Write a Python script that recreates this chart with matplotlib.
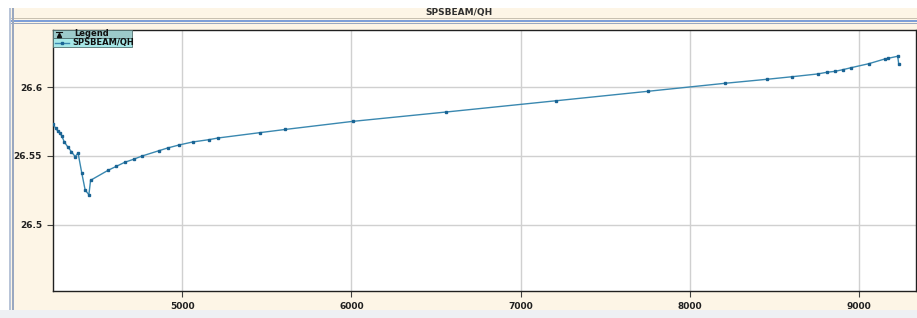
import numpy as np
import matplotlib
matplotlib.use("Agg")
import matplotlib.pyplot as plt
from matplotlib.patches import Rectangle
from matplotlib.lines import Line2D

# values
x_vals = [4238, 4252, 4265, 4277, 4289, 4303, 4323, 4346, 4368, 4385,
          4407, 4427, 4449, 4459, 4563, 4612, 4661, 4713, 4764, 4862,
          4914, 4982, 5063, 5160, 5213, 5461, 5609, 6009, 6560, 7210,
          7754, 8207, 8454, 8605, 8755, 8808, 8857, 8903, 8954, 9058,
          9151, 9172, 9228, 9234]
y_vals = [26.5733, 26.5702, 26.5682, 26.5667, 26.5645, 26.5604, 26.5568, 26.5531, 26.5495, 26.5522,
          26.5376, 26.5252, 26.5218, 26.5323, 26.5396, 26.5425, 26.5454, 26.5476, 26.5500, 26.5538,
          26.5558, 26.5580, 26.5602, 26.5619, 26.5631, 26.5670, 26.5693, 26.5752, 26.5820, 26.5902,
          26.5971, 26.6029, 26.6058, 26.6077, 26.6097, 26.6109, 26.6116, 26.6128, 26.6143, 26.6172,
          26.6206, 26.6211, 26.6226, 26.6167]
x_ticks = [5000, 6000, 7000, 8000, 9000]
y_ticks = [26.5, 26.55, 26.6]
y_ticklabels = ["26.5", "26.55", "26.6"]
title = "SPSBEAM/QH"
series_name = "SPSBEAM/QH"

W, H = 917, 318
cream = "#fdf5e6"
fig = plt.figure(figsize=(W / 100, H / 100), dpi=100)
fig.patch.set_facecolor(cream)

def px(x0, y0, w, h, z=-1, **kw):
    # rectangle in pixel coords (y from top)
    r = Rectangle((x0 / W, 1 - (y0 + h) / H), w / W, h / H,
                  transform=fig.transFigure, zorder=z, **kw)
    fig.patches.append(r)
    return r

# window decorations
px(0, 0, W, 8, facecolor="white", edgecolor="none")
px(0, 18, W, 1, facecolor="#c8c0b0", edgecolor="none")
px(0, 20, W, 1.5, facecolor="#7e9fd8", edgecolor="none")
px(0, 23, W, 1, facecolor="#9aa8c0", edgecolor="none")
px(0, 0, 9, H, facecolor="white", edgecolor="none")
px(9, 8, 2, H, facecolor="#b8c4d8", edgecolor="none")
px(12, 8, 2, H, facecolor="#9aa8c0", edgecolor="none")
px(0, 310, W, 8, facecolor="#eef0f3", edgecolor="none")
fig.text(0.5, 1 - 12.5 / H, title, ha="center", va="center",
         fontsize=6.5, fontweight="bold", color="#303030")

ax = fig.add_axes([53 / W, 27 / H, 863 / W, 261 / H])
ax.set_facecolor("white")
ax.plot(x_vals, y_vals, color="#3a88b0", lw=1.0, marker="s", ms=2.0,
        mfc="#1a6494", mec="#1a6494", zorder=3)
ax.set_xlim(4237, 9336)
ax.set_ylim(26.4517, 26.6417)
ax.set_xticks(x_ticks)
ax.set_yticks(y_ticks)
ax.set_yticklabels(y_ticklabels)
ax.grid(True, color="#d0d0d0", lw=1.0)
ax.set_axisbelow(True)
for s in ax.spines.values():
    s.set_color("#202020")
    s.set_linewidth(1.0)
ax.tick_params(direction="out", length=4, width=0.8, color="#404040",
               labelsize=6.5, pad=4)
for lab in ax.get_xticklabels() + ax.get_yticklabels():
    lab.set_fontweight("bold")
    lab.set_color("#202020")

# legend box
px(53, 30, 79, 8, z=5, facecolor="#9ccaca", edgecolor="#507070", lw=0.6)
px(53, 38, 79, 9, z=5, facecolor="#a6e8e8", edgecolor="#507070", lw=0.6)
fig.text(92 / W, 1 - 34 / H, "Legend", ha="center", va="center",
         fontsize=6, fontweight="bold", color="#101010", zorder=6)
# little header icon: bar over a triangle
fig.lines.append(Line2D([56 / W, 62 / W], [1 - 31.8 / H] * 2, transform=fig.transFigure,
                        color="#101010", lw=0.8, zorder=6))
fig.lines.append(Line2D([59 / W], [1 - 34.8 / H], transform=fig.transFigure,
                        color="#101010", marker="^", ms=3, ls="none", zorder=6))
fig.text(72 / W, 1 - 42.5 / H, series_name, ha="left", va="center",
         fontsize=6, fontweight="bold", color="#101010", zorder=6)
fig.lines.append(Line2D([55 / W, 69 / W], [1 - 42.5 / H] * 2, transform=fig.transFigure,
                        color="#3a88b0", lw=1.0, zorder=6))
fig.lines.append(Line2D([62 / W], [1 - 42.5 / H], transform=fig.transFigure,
                        marker="s", ms=1.5, ls="none", mfc="#1a6494", mec="#1a6494", zorder=6))

fig.savefig("out.png", dpi=100, facecolor=fig.get_facecolor())
